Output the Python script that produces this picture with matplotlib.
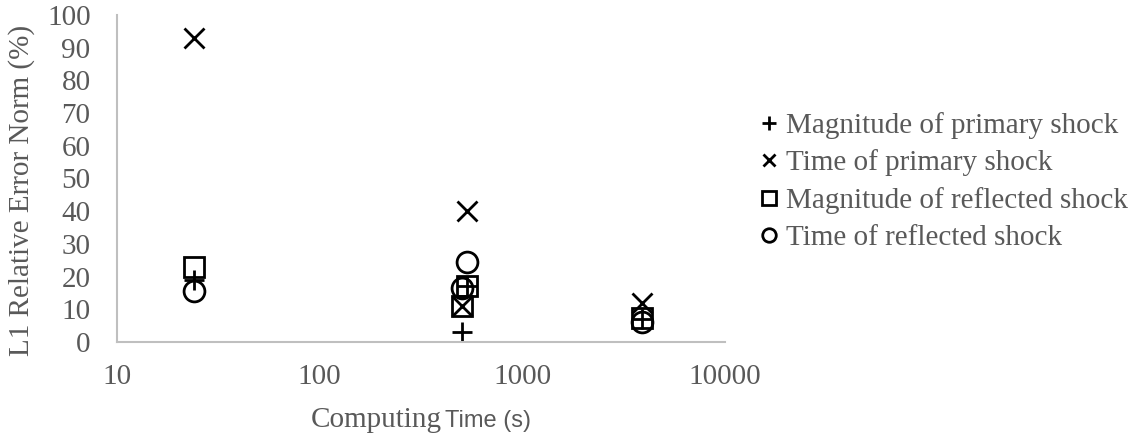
import matplotlib.pyplot as plt

# Computing time (s) for each run
time_s = [24, 502, 533, 3900]

mag_primary = [19, 3, 17, 7]
time_primary = [93, 11, 40, 12]
mag_reflected = [23, 11, 17, 7.5]
time_reflected = [15.5, 16.5, 24.5, 6]

labels = ['Magnitude of primary shock', 'Time of primary shock',
          'Magnitude of reflected shock', 'Time of reflected shock']
yticks = [0, 10, 20, 30, 40, 50, 60, 70, 80, 90, 100]
xticks = [10, 100, 1000, 10000]

plt.rcParams['font.family'] = ['Liberation Serif', 'DejaVu Serif']
grey = '#595959'
fs = 21

fig = plt.figure(figsize=(11.36, 4.38), dpi=100)
ax = fig.add_axes([0.103, 0.219, 0.535, 0.747])

series = [mag_primary, time_primary, mag_reflected, time_reflected]
markers = ['+', 'x', 's', 'o']
sizes = [15, 14, 15, 15]
for vals, m, ms, lab in zip(series, markers, sizes, labels):
    ax.plot(time_s, vals, linestyle='none', marker=m, ms=ms, mew=2,
            mec='black', mfc='none', label=lab, clip_on=False)

ax.set_xscale('log')
ax.set_xlim(10, 10000)
ax.set_ylim(0, 100)
ax.set_xticks(xticks)
ax.set_xticklabels([str(t) for t in xticks])
ax.minorticks_off()
ax.set_yticks(yticks)
ax.tick_params(length=0, labelsize=fs, labelcolor=grey)
ax.tick_params(axis='y', pad=19)
ax.tick_params(axis='x', pad=16)

for s in ['top', 'right']:
    ax.spines[s].set_visible(False)
for s in ['left', 'bottom']:
    ax.spines[s].set_color('#bfbfbf')
    ax.spines[s].set_linewidth(1.5)

fig.text(0.019, 0.566, 'L1 Relative Error Norm (%)', fontsize=fs, color=grey,
         rotation=90, ha='center', va='center')

# x label: "Computing" in serif, "Time (s)" in a narrow sans
fig.text(0.389, 0.025, 'Computing', fontsize=fs, color=grey, ha='right', va='baseline')
fig.text(0.392, 0.025, 'Time (s)', fontsize=17, color=grey, ha='left', va='baseline',
         family=['Liberation Sans Narrow', 'Liberation Sans', 'DejaVu Sans'])

ax.legend(loc='center left', bbox_to_anchor=(761 / 1136, 0.586),
          bbox_transform=fig.transFigure, frameon=False, borderpad=0,
          borderaxespad=0, fontsize=fs, labelcolor=grey, markerscale=0.65,
          handlelength=0.55, handletextpad=0.3, labelspacing=0.36)

fig.savefig('out.png', dpi=100)
